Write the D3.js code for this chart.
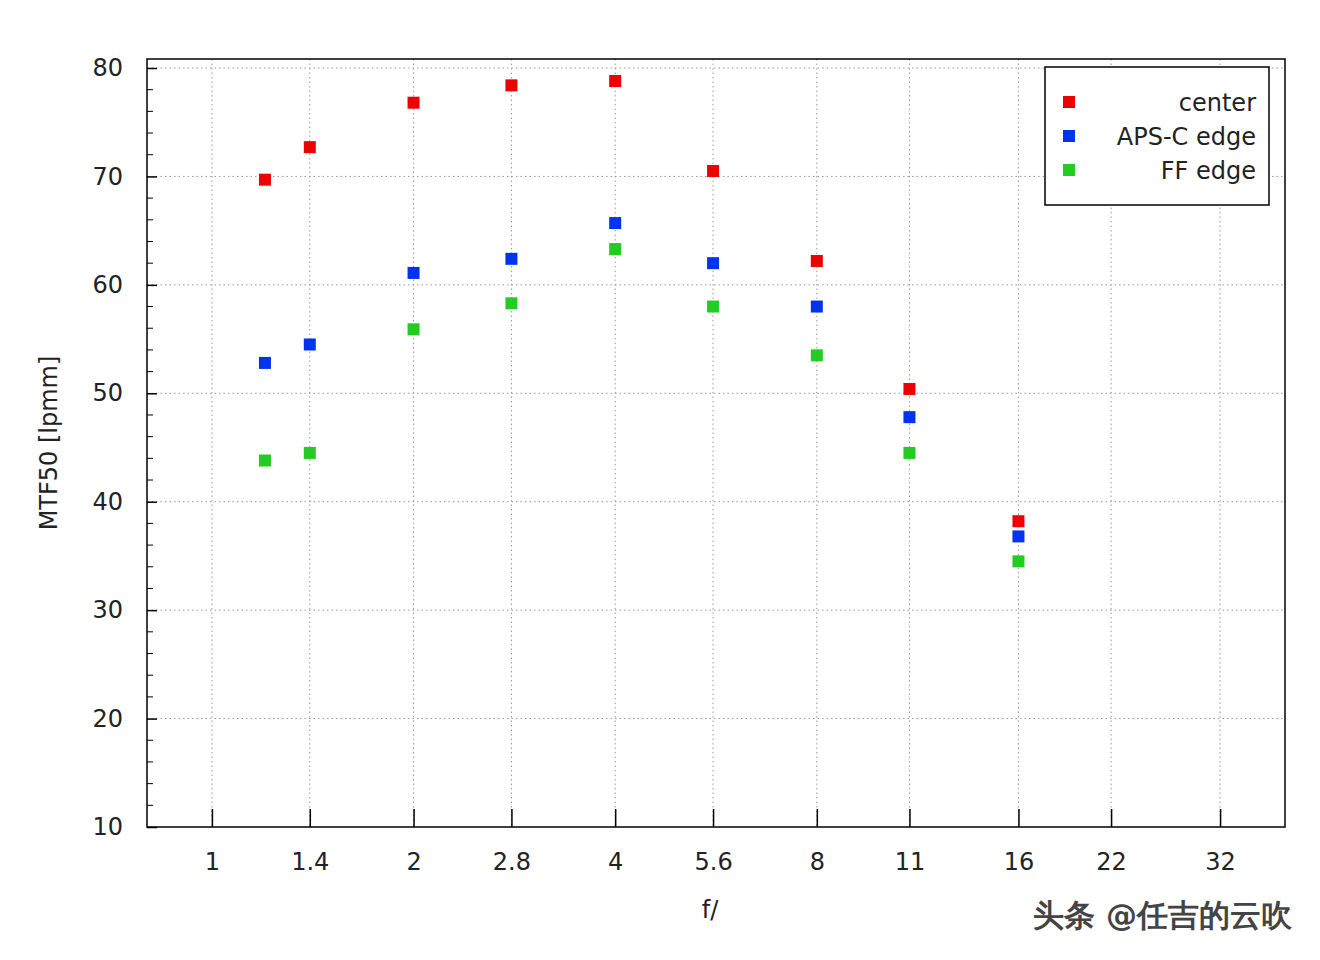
<!DOCTYPE html>
<html><head><meta charset="utf-8">
<script src="https://cdn.jsdelivr.net/npm/d3@7"></script>
<style>body{margin:0;background:#fff}text{font-family:"DejaVu Sans",sans-serif}</style>
</head><body><svg id="c" width="1320" height="960"></svg>
<script>
const fstops=[1.2,1.4,2,2.8,4,5.6,8,11,16];
const center=[69.7,72.7,76.8,78.4,78.8,70.5,62.2,50.4,38.2];
const apsc=[52.8,54.5,61.1,62.4,65.7,62.0,58.0,47.8,36.8];
const ff=[43.8,44.5,55.9,58.3,63.3,58.0,53.5,44.5,34.5];
const xTicks=[1,1.4,2,2.8,4,5.6,8,11,16,22,32];
const yTicks=[10,20,30,40,50,60,70,80];
const series=[{name:"center",v:center,c:"#ee0000"},{name:"APS-C edge",v:apsc,c:"#0033ee"},{name:"FF edge",v:ff,c:"#22cc22"}];
const svg=d3.select("#c");
const L=147,R=1285,T=59,B=827;
const x=d3.scaleLog().base(2).domain([0.8,40]).range([L,R]);
const y=d3.scaleLinear().domain([10,80]).range([B,68]);
const g=svg.append("g");
xTicks.forEach(t=>g.append("line").attr("x1",x(t)).attr("x2",x(t)).attr("y1",T).attr("y2",B).attr("stroke","#999").attr("stroke-dasharray","1.5,3"));
yTicks.slice(1).forEach(t=>g.append("line").attr("x1",L).attr("x2",R).attr("y1",y(t)).attr("y2",y(t)).attr("stroke","#999").attr("stroke-dasharray","1.5,3"));
g.append("rect").attr("x",L).attr("y",T).attr("width",R-L).attr("height",B-T).attr("fill","none").attr("stroke","#000").attr("stroke-width",1.5);
const xa=d3.axisBottom(x).tickValues(xTicks).tickFormat(d=>d).tickSizeInner(-18).tickSizeOuter(0).tickPadding(26);
const xg=svg.append("g").attr("transform",`translate(0,${B})`).call(xa);
xg.select(".domain").remove();
xg.selectAll("line").attr("stroke-width",1.5);
xg.selectAll("text").attr("font-size",24).attr("fill","#222");
const ya=d3.axisLeft(y).tickValues(yTicks).tickSizeInner(-10).tickSizeOuter(0).tickPadding(24);
const yg=svg.append("g").attr("transform",`translate(${L},0)`).call(ya);
yg.select(".domain").remove();
yg.selectAll("line").attr("stroke-width",1.5);
yg.selectAll("text").attr("font-size",24).attr("fill","#222");
d3.range(12,80,2).filter(v=>v%10!==0).forEach(v=>svg.append("line").attr("x1",L).attr("x2",L+6).attr("y1",y(v)).attr("y2",y(v)).attr("stroke","#000"));
svg.append("text").attr("x",710).attr("y",918).attr("text-anchor","middle").attr("font-size",24).attr("fill","#222").text("f/");
svg.append("text").attr("transform","translate(57,443) rotate(-90)").attr("text-anchor","middle").attr("font-size",24).attr("fill","#222").text("MTF50 [lpmm]");
series.forEach(s=>{
  svg.append("g").selectAll("rect").data(fstops).join("rect")
   .attr("x",(d)=>x(d)-6).attr("y",(d,i)=>y(s.v[i])-6).attr("width",12).attr("height",12).attr("fill",s.c);
});
svg.append("rect").attr("x",1045).attr("y",67).attr("width",224).attr("height",138).attr("fill","#fff").attr("stroke","#000").attr("stroke-width",1.5);
series.forEach((s,i)=>{
  const yy=102+i*34;
  svg.append("rect").attr("x",1063).attr("y",yy-6).attr("width",12).attr("height",12).attr("fill",s.c);
  svg.append("text").attr("x",1256).attr("y",yy+9).attr("text-anchor","end").attr("font-size",24).attr("fill","#222").text(s.name);
});
svg.append("text").attr("x",1292).attr("y",926).attr("text-anchor","end").attr("font-size",31).attr("font-weight","bold").attr("fill","#444").attr("font-family","Noto Sans CJK SC").text("头条 @任吉的云吹");
</script></body></html>
